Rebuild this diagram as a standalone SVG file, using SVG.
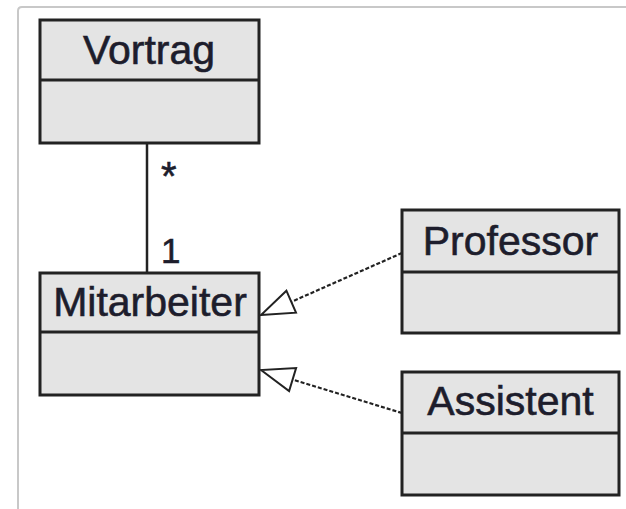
<svg xmlns="http://www.w3.org/2000/svg" width="626" height="509" viewBox="0 0 626 509">
<style>
.box{fill:#e4e4e4;stroke:#222;stroke-width:3}
.div{stroke:#222;stroke-width:3}
.name{font-family:"Liberation Sans",Arial,sans-serif;font-size:41px;fill:#1d1d2c;stroke:#1d1d2c;stroke-width:0.6;text-anchor:middle}
.mult{font-family:"Liberation Sans",Arial,sans-serif;font-size:35px;fill:#1d1d2c;stroke:#1d1d2c;stroke-width:0.6}
.star{font-size:40px}
.assoc{stroke:#222;stroke-width:2.5;fill:none}
.gen{stroke:#222;stroke-width:2.2;fill:none;stroke-dasharray:4 2}
.head{fill:#fff;stroke:#222;stroke-width:2;stroke-linejoin:miter}
</style>
<rect width="626" height="509" fill="#fff"/>
<path d="M18,509 V11 Q18,7 22,7 H626" fill="none" stroke="#c8c8c8" stroke-width="2"/>
<g id="connectors">
<line class="assoc" x1="147" y1="143" x2="147" y2="273"/>
<text class="mult star" x="161" y="190">*</text>
<text class="mult" x="161" y="263">1</text>
<line class="gen" x1="402" y1="253" x2="291" y2="302"/>
<polygon class="head" points="261,315 296,312.7 286.4,290.7"/>
<line class="gen" x1="402" y1="413" x2="292.6" y2="379.6"/>
<polygon class="head" points="261,370 289.1,391.1 296.1,368.1"/>
</g>
<g id="vortrag">
<rect class="box" x="40" y="20" width="219" height="123"/>
<line class="div" x1="40" y1="80" x2="259" y2="80"/>
<text class="name" x="149" y="64">Vortrag</text>
</g>
<g id="mitarbeiter">
<rect class="box" x="40" y="273" width="219" height="122"/>
<line class="div" x1="40" y1="332" x2="259" y2="332"/>
<text class="name" x="150" y="316">Mitarbeiter</text>
</g>
<g id="professor">
<rect class="box" x="402" y="210" width="217" height="123"/>
<line class="div" x1="402" y1="272" x2="619" y2="272"/>
<text class="name" x="510.5" y="255">Professor</text>
</g>
<g id="assistent">
<rect class="box" x="402" y="372" width="217" height="123"/>
<line class="div" x1="402" y1="433" x2="619" y2="433"/>
<text class="name" x="510.5" y="415">Assistent</text>
</g>
</svg>
